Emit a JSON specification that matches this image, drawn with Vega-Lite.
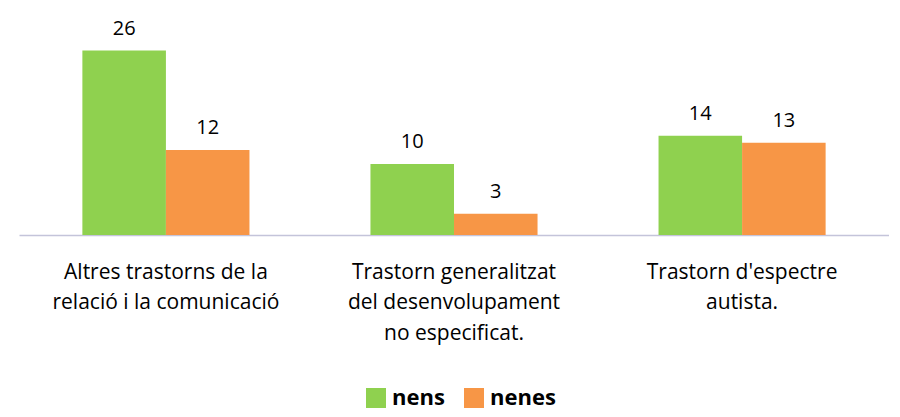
{
  "$schema": "https://vega.github.io/schema/vega-lite/v6.json",
  "width": 870,
  "height": 227,
  "autosize": {"type": "pad"},
  "padding": {"left": 19, "top": 8, "right": 0, "bottom": 0},
  "background": "white",
  "config": {
    "view": {"stroke": null},
    "font": "Open Sans"
  },
  "data": {
    "values": [
      {"categoria": "Altres trastorns de la relació i la comunicació", "grup": "nens", "valor": 26},
      {"categoria": "Altres trastorns de la relació i la comunicació", "grup": "nenes", "valor": 12},
      {"categoria": "Trastorn generalitzat del desenvolupament no especificat.", "grup": "nens", "valor": 10},
      {"categoria": "Trastorn generalitzat del desenvolupament no especificat.", "grup": "nenes", "valor": 3},
      {"categoria": "Trastorn d'espectre autista.", "grup": "nens", "valor": 14},
      {"categoria": "Trastorn d'espectre autista.", "grup": "nenes", "valor": 13}
    ]
  },
  "encoding": {
    "x": {
      "field": "categoria",
      "type": "nominal",
      "sort": null,
      "scale": {"paddingInner": 0.42, "paddingOuter": 0.22},
      "axis": {
        "title": null,
        "labelAngle": 0,
        "ticks": false,
        "labelPadding": 26,
        "labelFontSize": 21,
        "labelLimit": 0,
        "labelColor": "#000000",
        "labelLineHeight": 30.5,
        "labelBaseline": "top",
        "domainColor": "#c4c4da",
        "domainWidth": 1.5,
        "labelExpr": "datum.label == 'Altres trastorns de la relació i la comunicació' ? ['Altres trastorns de la', 'relació i la comunicació'] : datum.label == 'Trastorn generalitzat del desenvolupament no especificat.' ? ['Trastorn generalitzat', 'del desenvolupament', 'no especificat.'] : ['Trastorn d\\'espectre', 'autista.']"
      }
    },
    "xOffset": {"field": "grup", "type": "nominal", "sort": ["nens", "nenes"]},
    "y": {
      "field": "valor",
      "type": "quantitative",
      "scale": {"domain": [0, 32]},
      "axis": null
    }
  },
  "layer": [
    {
      "mark": {"type": "bar"},
      "encoding": {
        "color": {
          "field": "grup",
          "type": "nominal",
          "sort": ["nens", "nenes"],
          "scale": {"domain": ["nens", "nenes"], "range": ["#8fd14f", "#f79646"]},
          "legend": {
            "title": null,
            "orient": "none",
            "legendX": 346,
            "legendY": 379,
            "direction": "horizontal",
            "symbolType": "square",
            "symbolSize": 400,
            "symbolStrokeWidth": 0,
            "labelFontSize": 22,
            "labelFontWeight": "bold",
            "labelColor": "#000000",
            "labelLimit": 0,
            "labelOffset": 5,
            "columnPadding": 18
          }
        }
      }
    },
    {
      "mark": {"type": "text", "baseline": "bottom", "dy": -12, "fontSize": 20, "color": "#000000"},
      "encoding": {"text": {"field": "valor", "type": "quantitative"}}
    }
  ]
}
